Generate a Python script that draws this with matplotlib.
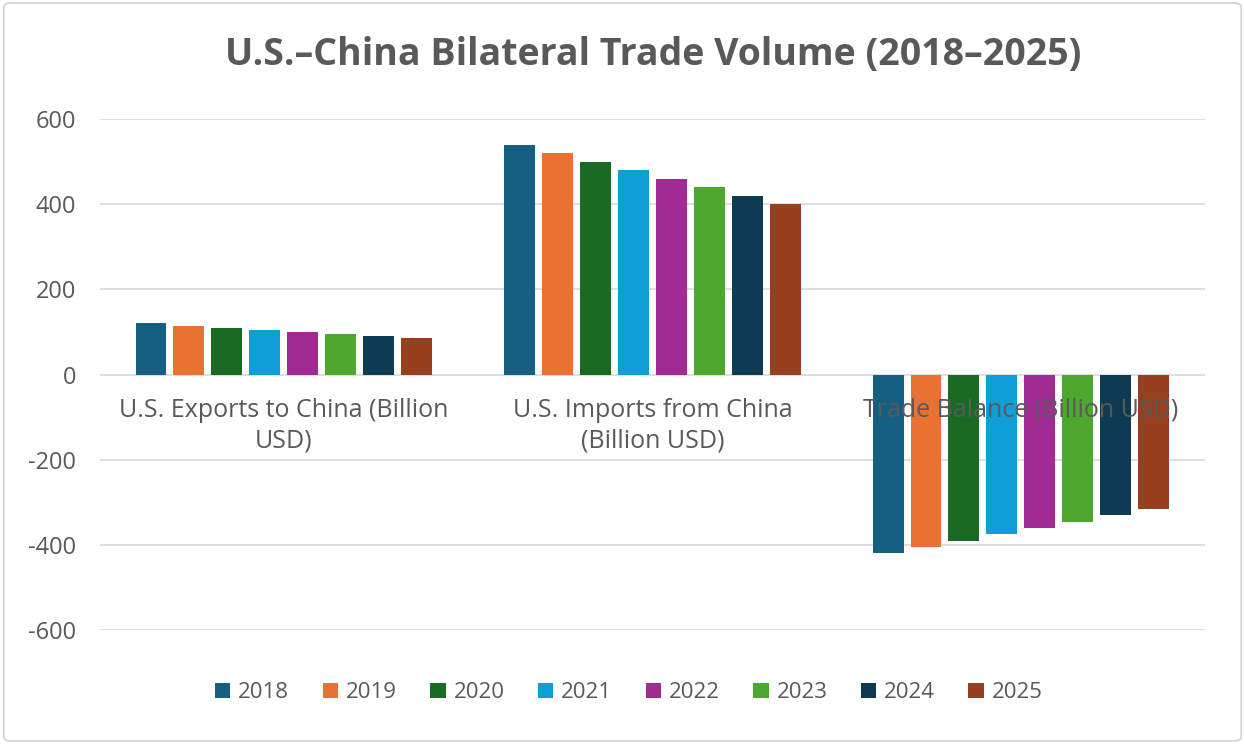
import numpy as np
import matplotlib.pyplot as plt
from matplotlib.patches import FancyBboxPatch

plt.rcParams['font.family'] = ['Open Sans', 'DejaVu Sans']
plt.rcParams['axes.unicode_minus'] = False

categories = ['U.S. Exports to China (Billion\nUSD)',
              'U.S. Imports from China\n(Billion USD)',
              'Trade Balance (Billion USD)']
years = ['2018', '2019', '2020', '2021', '2022', '2023', '2024', '2025']
exports = [120, 115, 110, 105, 100, 95, 90, 85]
imports = [540, 520, 500, 480, 460, 440, 420, 400]
balance = [-420, -405, -390, -375, -360, -345, -330, -315]
colors = ['#156082', '#E97132', '#196B24', '#0F9ED5', '#A02B93',
          '#4EA72E', '#0E3A52', '#96401F']

values = np.array([exports, imports, balance])  # rows = category, cols = year

fig = plt.figure(figsize=(12.45, 7.44), dpi=100)
ax = fig.add_axes([0.080, 0.153, 0.888, 0.687])

x = np.arange(len(categories))
pitch = 0.103
width = 0.084
for i, yr in enumerate(years):
    off = (i - (len(years) - 1) / 2) * pitch
    ax.bar(x + off, values[:, i], width=width, color=colors[i], label=yr, zorder=2)

ax.set_xlim(-0.5, 2.5)
ax.set_ylim(-600, 600)
ax.set_yticks(range(-600, 601, 200))
ax.tick_params(axis='y', length=0, labelsize=17, labelcolor='#595959', pad=17)
ax.tick_params(axis='x', length=0, labelbottom=False)
ax.grid(axis='y', color='#d9d9d9', linewidth=1.2, zorder=0)
for s in ax.spines.values():
    s.set_visible(False)

for i, c in enumerate(categories):
    ax.annotate(c, xy=(i, 0), xytext=(0, -23), textcoords='offset pixels',
                ha='center', va='top', fontsize=18, color='#595959',
                linespacing=1.3, zorder=3)

fig.text(0.525, 1 - 65 / 744, 'U.S.\u2013China Bilateral Trade Volume (2018\u20132025)',
         ha='center', va='baseline', fontsize=27, fontweight='bold', color='#595959')

fig.legend(loc='center', bbox_to_anchor=(0.505, 0.069), ncol=8, frameon=False,
           fontsize=16, labelcolor='#595959', handlelength=0.7, handleheight=0.7,
           handletextpad=0.35, columnspacing=1.5)

border = FancyBboxPatch((0.003, 0.004), 0.994, 0.992, boxstyle='round,pad=0,rounding_size=0.006',
                        transform=fig.transFigure, fill=False, edgecolor='#d0d0d0', linewidth=1.2)
fig.patches.append(border)

fig.savefig('out.png', dpi=100)
